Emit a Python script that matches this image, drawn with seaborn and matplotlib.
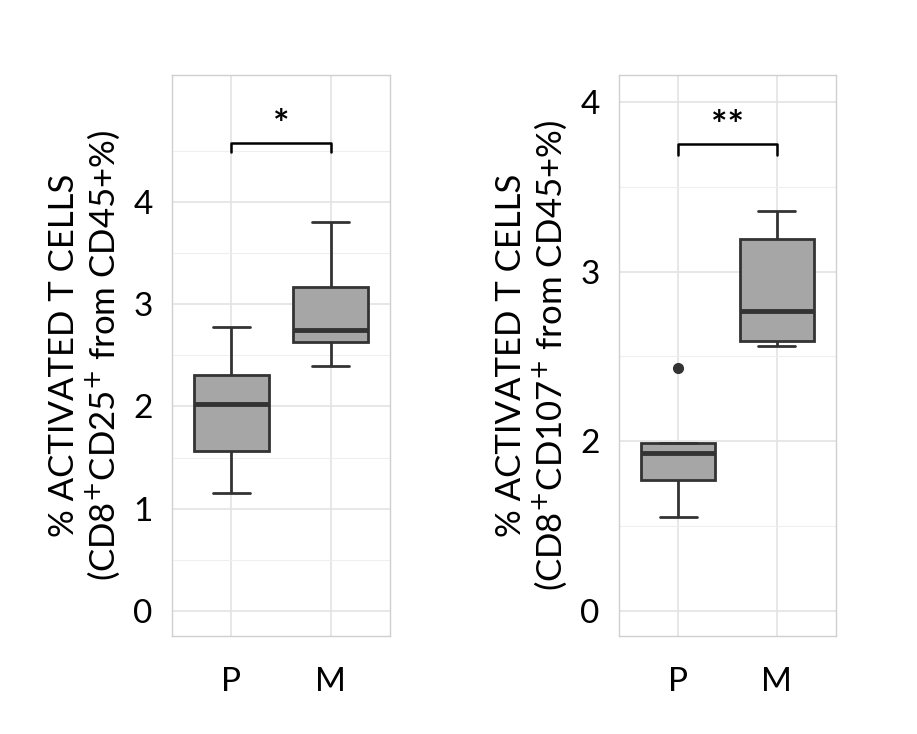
import matplotlib
matplotlib.use("Agg")
import matplotlib.pyplot as plt
import seaborn as sns
import pandas as pd

groups = ["P", "M"]
left_P = [1.15, 1.56, 2.02, 2.31, 2.78]
left_M = [2.39, 2.63, 2.75, 3.17, 3.80]
right_P = [1.55, 1.77, 1.93, 1.99, 2.43]
right_M = [2.56, 2.59, 2.77, 3.19, 3.36]
left_ticks = [0, 1, 2, 3, 4]
left_ticklabels = ["0", "1", "2", "3", "4"]
right_ticks = [1, 2, 3, 4]
right_ticklabels = ["0", "2", "3", "4"]

sns.set_theme(style="whitegrid", font="Lato")
fig = plt.figure(figsize=(9.17, 7.34), dpi=100)
ax1 = fig.add_axes([172/917, 1-636/734, 218/917, 561/734])
ax2 = fig.add_axes([619/917, 1-636/734, 217/917, 561/734])

def panel(ax, P, M, ylim, ticks, labels, minors, ylabel, bar_y, tick_drop, star):
    df = pd.DataFrame({"g": ["P"]*len(P) + ["M"]*len(M), "v": P + M})
    sns.boxplot(data=df, x="g", y="v", order=groups, ax=ax, color="#a6a6a6",
                width=0.75, linewidth=2, linecolor="#333333", saturation=1,
                medianprops=dict(linewidth=3.5, color="#333333"),
                flierprops=dict(marker="o", markerfacecolor="#333333",
                                markeredgecolor="#333333", markersize=7))
    ax.set_ylim(*ylim)
    ax.set_xlim(-0.6, 1.6)
    ax.set_yticks(ticks)
    ax.set_yticklabels(labels)
    ax.set_yticks(minors, minor=True)
    ax.grid(True, which="major", color="#e3e3e3", linewidth=1.2)
    ax.grid(True, which="minor", color="#efefef", linewidth=0.8)
    ax.set_axisbelow(True)
    for s in ax.spines.values():
        s.set_color("#d0d0d0"); s.set_linewidth(1)
    ax.set_xlabel("")
    ax.set_ylabel(ylabel, fontsize=25, color="black", labelpad=8, linespacing=1.1)
    ax.tick_params(axis="y", labelsize=24, colors="black", length=0, pad=14)
    ax.tick_params(axis="x", labelsize=24, colors="black", length=0, pad=22)
    ax.plot([0, 0, 1, 1], [bar_y - tick_drop, bar_y, bar_y, bar_y - tick_drop],
            color="black", linewidth=1.8)
    ax.text(0.5, bar_y, star, ha="center", va="bottom", fontsize=28,
            fontweight="bold", color="black")

panel(ax1, left_P, left_M, (-0.245, 5.24), left_ticks, left_ticklabels,
      [0.5, 1.5, 2.5, 3.5, 4.5],
      "% ACTIVATED T CELLS\n(CD8$^{+}$CD25$^{+}$ from CD45+%)", 4.58, 0.09, "*")
panel(ax2, right_P, right_M, (0.85, 4.16), right_ticks, right_ticklabels,
      [1.5, 2.5, 3.5],
      "% ACTIVATED T CELLS\n(CD8$^{+}$CD107$^{+}$ from CD45+%)", 3.75, 0.06, "**")

fig.savefig("out.png", dpi=100)
